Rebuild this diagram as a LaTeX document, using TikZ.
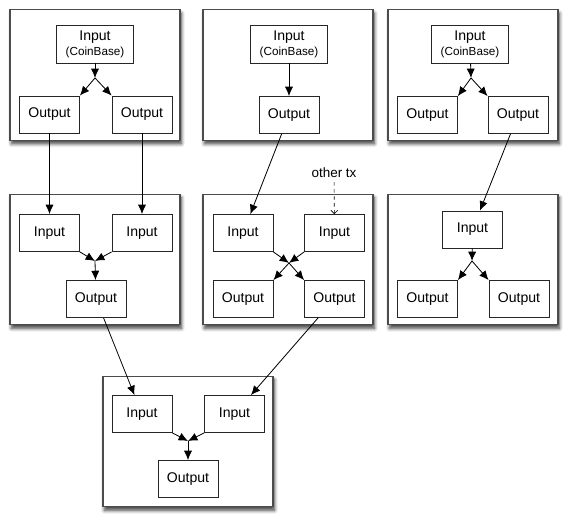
\documentclass[tikz,border=0pt]{standalone}
\usepackage{fontspec}
\setmainfont{Liberation Sans}
\usepackage{tikz}
\usetikzlibrary{arrows.meta,shadows.blur,calc,positioning}

\begin{document}
\begin{tikzpicture}[x=0.03cm,y=-0.03cm,
    >={Latex[length=8pt,width=7pt]},
    tx/.style={draw=black!70, line width=1pt, fill=white,
      blur shadow={shadow xshift=1.2pt, shadow yshift=-3pt, shadow blur steps=6, shadow blur radius=3pt, shadow opacity=75},
      minimum width=5.1cm, minimum height=3.92cm},
    io/.style={draw=black!85, line width=0.7pt, fill=white, inner sep=1pt,
      minimum width=1.8cm, minimum height=1.11cm, font=\fontsize{12}{13}\selectfont},
    cb/.style={io, minimum width=2.3cm, minimum height=1.14cm, align=center},
    ln/.style={->, line width=0.7pt}]
    \useasboundingbox (0,0) rectangle (571,525);
    \newcommand{\cbtext}{Input\\{\fontsize{10}{11}\selectfont(CoinBase)}}
    % transaction boxes
    \node[tx] (T1) at (95,75) {};
    \node[tx] (T2) at (288,75) {};
    \node[tx] (T3) at (473,75) {};
    \node[tx] (M1) at (95,259.5) {};
    \node[tx] (M2) at (288,259.5) {};
    \node[tx] (M3) at (473,259.5) {};
    \node[tx] (B) at (188,441.5) {};
    % top row
    \node[cb] (t1in) at (95,44) {\cbtext};
    \node[io] (t1oa) at (49.5,114.5) {Output};
    \node[io] (t1ob) at (142,114.5) {Output};
    \coordinate (t1j) at (95,78);
    \node[cb] (t2in) at (289,44) {\cbtext};
    \node[io] (t2o) at (289,115) {Output};
    \node[cb] (t3in) at (470,44) {\cbtext};
    \node[io] (t3oa) at (427.5,115) {Output};
    \node[io] (t3ob) at (518,115) {Output};
    \coordinate (t3j) at (471,78);
    % middle row
    \node[io] (m1ia) at (49.5,233) {Input};
    \node[io] (m1ib) at (142,233) {Input};
    \node[io] (m1o) at (96,299) {Output};
    \coordinate (m1j) at (95,261);
    \node[io] (m2ia) at (243,233) {Input};
    \node[io] (m2ib) at (334.5,233) {Input};
    \node[io] (m2oa) at (243,299) {Output};
    \node[io] (m2ob) at (334.5,299) {Output};
    \coordinate (m2j) at (289,263);
    \node[font=\fontsize{11.5}{13}\selectfont] (otx) at (334,173) {other tx};
    \node[io] (m3in) at (472.5,229.5) {Input};
    \node[io] (m3oa) at (427.5,299) {Output};
    \node[io] (m3ob) at (519,299) {Output};
    \coordinate (m3j) at (472,261);
    % bottom
    \node[io] (bia) at (142,414) {Input};
    \node[io] (bib) at (234.5,414) {Input};
    \node[io] (bo) at (188,479) {Output};
    \coordinate (bj) at (188,441);
    % inside the boxes
    \draw[ln] (t1in) -- (t1j);
    \draw[ln] (t1j) -- (t1oa.north east);
    \draw[ln] (t1j) -- (t1ob.north west);
    \draw[ln] (t2in) -- (t2o);
    \draw[ln] (t3in) -- (t3j);
    \draw[ln] (t3j) -- (t3oa.north east);
    \draw[ln] (t3j) -- (t3ob.north west);
    \draw[ln] (m1ia.south east) -- (m1j);
    \draw[ln] (m1ib.south west) -- (m1j);
    \draw[ln] (m1j) -- (m1o);
    \draw[ln] (m2ia.south east) -- (m2j);
    \draw[ln] (m2ib.south west) -- (m2j);
    \draw[ln] (m2j) -- (m2oa.north east);
    \draw[ln] (m2j) -- (m2ob.north west);
    \draw[ln] (m3in) -- (m3j);
    \draw[ln] (m3j) -- (m3oa.north east);
    \draw[ln] (m3j) -- (m3ob.north west);
    \draw[ln] (bia.south east) -- (bj);
    \draw[ln] (bib.south west) -- (bj);
    \draw[ln] (bj) -- (bo);
    % between the boxes
    \draw[ln] (t1oa) -- (m1ia);
    \draw[ln] (t1ob) -- (m1ib);
    \draw[ln] (t2o) -- (m2ia);
    \draw[ln] (t3ob) -- (m3in);
    \draw[-{Straight Barb[length=3pt,width=6pt]}, dashed, line width=0.5pt] (otx) -- (m2ib);
    \draw[ln] (m1o) -- (bia);
    \draw[ln] (m2ob) -- (bib);
\end{tikzpicture}
\end{document}
